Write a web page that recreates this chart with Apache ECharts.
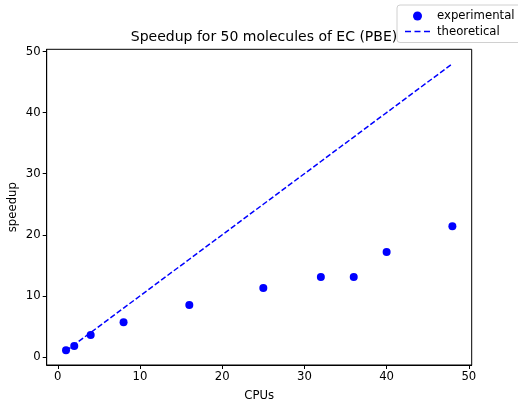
<!DOCTYPE html>
<html>
<head>
<meta charset="utf-8">
<script src="https://cdn.jsdelivr.net/npm/echarts@6/dist/echarts.min.js"></script>
<style>html,body{margin:0;padding:0;background:#fff}#c{width:518px;height:400px}</style>
</head>
<body>
<div id="c"></div>
<script>
const cpus = [1, 2, 4, 8, 16, 25, 32, 36, 40, 48];
const experimental = [1.1, 1.8, 3.6, 5.7, 8.5, 11.3, 13.1, 13.1, 17.2, 21.4];
const theoretical = [1, 2, 4, 8, 16, 25, 32, 36, 40, 48];
const xTicks = [0, 10, 20, 30, 40, 50];
const yTicks = [0, 10, 20, 30, 40, 50];

const font = 'DejaVu Sans';
const fs = 11.7;
const chart = echarts.init(document.getElementById('c'), null, {renderer: 'canvas'});
const axisCommon = {
  axisLine: {show: true, onZero: false, lineStyle: {color: '#000', width: 1}},
  axisTick: {show: true, inside: false, length: 4, lineStyle: {color: '#000', width: 1}},
  splitLine: {show: false},
  axisLabel: {color: '#000', fontSize: fs, fontFamily: font},
  nameTextStyle: {color: '#000', fontSize: fs, fontFamily: font}
};
chart.setOption({
  animation: false,
  backgroundColor: '#fff',
  title: {
    text: 'Speedup for 50 molecules of EC (PBE)',
    left: 259, top: 25, textAlign: 'center',
    textStyle: {fontSize: 14, fontWeight: 'normal', color: '#000', fontFamily: font}
  },
  legend: {
    orient: 'vertical', left: 397, top: 5,
    padding: [5, 12, 5, 8], itemGap: 3.5, itemWidth: 25, itemHeight: 9,
    borderColor: '#d0d0d0', borderWidth: 1, borderRadius: 3, backgroundColor: '#fff',
    textStyle: {fontSize: fs, fontFamily: font, color: '#000', padding: [0, 0, 0, 2]},
    data: [
      {name: 'experimental', icon: 'circle'},
      {name: 'theoretical', icon: 'path://M0,0h6v1.5h-6z M9.5,0h6v1.5h-6z M19,0h6v1.5h-6z'}
    ]
  },
  grid: {left: 46.7, top: 49.3, width: 425, height: 315.7, outerBoundsMode: 'none', containLabel: false, show: true, borderColor: '#000', borderWidth: 1, backgroundColor: 'transparent'},
  xAxis: Object.assign({}, axisCommon, {
    type: 'value', min: -1.35, max: 50.35,
    name: 'CPUs', nameLocation: 'middle', nameGap: 25, nameMoveOverlap: false,
    axisTick: Object.assign({}, axisCommon.axisTick, {customValues: xTicks}),
    axisLabel: Object.assign({}, axisCommon.axisLabel, {customValues: xTicks, margin: 6})
  }),
  yAxis: Object.assign({}, axisCommon, {
    type: 'value', min: -1.31, max: 50.36,
    name: 'speedup', nameLocation: 'middle', nameGap: 28, nameMoveOverlap: false,
    axisTick: Object.assign({}, axisCommon.axisTick, {customValues: yTicks}),
    axisLabel: Object.assign({}, axisCommon.axisLabel, {customValues: yTicks, margin: 6})
  }),
  series: [
    {
      name: 'experimental', type: 'scatter', symbol: 'circle', symbolSize: 8,
      itemStyle: {color: '#0000ff', opacity: 1},
      data: cpus.map((c, i) => [c, experimental[i]]), z: 3
    },
    {
      name: 'theoretical', type: 'line', symbol: 'none', showSymbol: false,
      lineStyle: {color: '#0000ff', width: 1.5, type: [5.5, 2.4]},
      itemStyle: {color: '#0000ff'},
      data: cpus.map((c, i) => [c, theoretical[i]]), z: 2
    }
  ]
});
</script>
</body>
</html>
